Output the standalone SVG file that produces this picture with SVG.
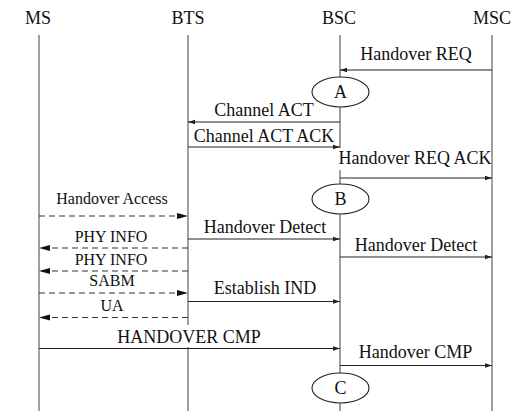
<svg xmlns="http://www.w3.org/2000/svg" width="530" height="411" viewBox="0 0 530 411">
<defs>
<style>
text{font-family:"Liberation Serif","Times New Roman",serif;fill:#111;text-anchor:middle}
.h{font-size:18px}
.m{font-size:18px}
.s{font-size:16px}
.life{stroke:#6e6e6e;stroke-width:1.3;fill:none}
.msg{stroke:#222;stroke-width:1.1;fill:none;marker-end:url(#ah)}
.dash{stroke:#333;stroke-width:1.2;fill:none;stroke-dasharray:6,4;marker-end:url(#ad)}
.ell{fill:#fff;stroke:#222;stroke-width:1.1}
.bg{fill:#fff}
</style>
<marker id="ah" markerUnits="userSpaceOnUse" markerWidth="8" markerHeight="6" refX="7" refY="3" orient="auto">
<path d="M0,0.8 L7,3 L0,5.2 z" fill="#222"/>
</marker>
<marker id="ad" markerUnits="userSpaceOnUse" markerWidth="12" markerHeight="8" refX="11" refY="4" orient="auto">
<path d="M0,1 L11,4 L0,7 z" fill="#111"/>
</marker>
</defs>
<rect width="530" height="411" fill="#fff"/>
<g id="MS">
<text class="h" x="38" y="24">MS</text>
<line class="life" x1="39" y1="35" x2="39" y2="411"/>
</g>
<g id="BTS">
<text class="h" x="188" y="24">BTS</text>
<line class="life" x1="188" y1="35" x2="188" y2="411"/>
</g>
<g id="BSC">
<text class="h" x="339" y="24">BSC</text>
<line class="life" x1="340" y1="35" x2="340" y2="411"/>
</g>
<g id="MSC">
<text class="h" x="492" y="24">MSC</text>
<line class="life" x1="492" y1="35" x2="492" y2="411"/>
</g>
<g id="connectors">
<line class="msg" x1="492" y1="70" x2="340" y2="70"/>
<text class="m" x="416" y="60">Handover REQ</text>
<line class="msg" x1="340" y1="122" x2="188" y2="122"/>
<text class="m" x="264" y="116">Channel ACT</text>
<line class="msg" x1="188" y1="147" x2="340" y2="147"/>
<text class="m" x="264" y="142">Channel ACT ACK</text>
<rect class="bg" x="337" y="148" width="152" height="22"/>
<text class="m" x="415" y="164">Handover REQ ACK</text>
<line class="msg" x1="340" y1="178" x2="492" y2="178"/>
<line class="dash" x1="39" y1="216" x2="188" y2="216"/>
<text class="s" x="112" y="204">Handover Access</text>
<line class="msg" x1="188" y1="239" x2="340" y2="239"/>
<text class="m" x="265" y="233">Handover Detect</text>
<line class="dash" x1="188" y1="248" x2="39" y2="248"/>
<text class="s" x="111" y="242">PHY INFO</text>
<line class="msg" x1="340" y1="257" x2="492" y2="257"/>
<text class="m" x="416" y="251">Handover Detect</text>
<line class="dash" x1="188" y1="271" x2="39" y2="271"/>
<text class="s" x="111" y="265">PHY INFO</text>
<line class="dash" x1="39" y1="293" x2="188" y2="293"/>
<text class="s" x="112" y="286">SABM</text>
<line class="msg" x1="188" y1="301.5" x2="340" y2="301.5"/>
<text class="m" x="265" y="294">Establish IND</text>
<line class="dash" x1="188" y1="317.5" x2="39" y2="317.5"/>
<text class="s" x="112" y="311">UA</text>
<rect class="bg" x="114" y="325" width="150" height="22"/>
<text class="m" x="189" y="343">HANDOVER CMP</text>
<line class="msg" x1="39" y1="348.5" x2="340" y2="348.5"/>
<line class="msg" x1="340" y1="365.5" x2="492" y2="365.5"/>
<text class="m" x="415.5" y="358">Handover CMP</text>
</g>
<g id="A">
<ellipse class="ell" cx="340.5" cy="92" rx="28.5" ry="15"/>
<text class="m" x="340.5" y="98">A</text>
</g>
<g id="B">
<ellipse class="ell" cx="340.5" cy="199" rx="28.5" ry="15"/>
<text class="m" x="340.5" y="205">B</text>
</g>
<g id="C">
<ellipse class="ell" cx="340.5" cy="388" rx="28.5" ry="15"/>
<text class="m" x="340.5" y="394">C</text>
</g>
</svg>
